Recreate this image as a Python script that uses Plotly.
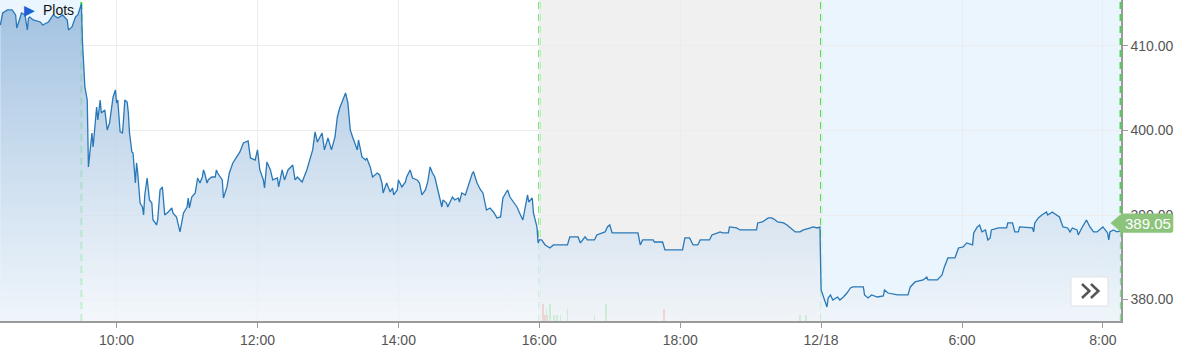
import plotly.graph_objects as go

DAY1 = "2019-12-17"
DAY2 = "2019-12-18"

premarket_times = ["08:21", "08:23", "08:27", "08:31", "08:34", "08:35", "08:38", "08:39", "08:42",
                   "08:44", "08:45", "08:46", "08:49", "08:55", "08:57", "09:02", "09:06", "09:10",
                   "09:14", "09:18", "09:19", "09:22", "09:25", "09:27", "09:30"]
premarket_prices = [412.48, 413.90, 414.26, 414.26, 413.67, 412.13, 413.43, 413.90, 413.67,
                    411.89, 413.31, 413.43, 413.08, 412.84, 412.48, 412.84, 413.67, 413.31,
                    413.67, 413.08, 411.89, 412.25, 413.43, 413.67, 414.97]

regular_times = [
    "09:31", "09:33", "09:35", "09:36", "09:39", "09:40", "09:43", "09:44", "09:46", "09:47",
    "09:50", "09:52", "09:54", "09:57", "09:59", "10:00", "10:01", "10:03", "10:05", "10:06",
    "10:07", "10:09", "10:10", "10:11", "10:13", "10:14", "10:16", "10:17", "10:18", "10:20",
    "10:22", "10:23", "10:24", "10:26", "10:27", "10:28", "10:30", "10:31", "10:33", "10:34",
    "10:35", "10:37", "10:39", "10:40", "10:41", "10:44", "10:47", "10:48", "10:51", "10:54",
    "10:57", "11:00", "11:01", "11:02", "11:04", "11:07", "11:08", "11:09", "11:11", "11:13",
    "11:14", "11:15", "11:17", "11:18", "11:21", "11:24", "11:25", "11:26", "11:30", "11:31",
    "11:34", "11:36", "11:39", "11:42", "11:45", "11:48", "11:51", "11:52", "11:54", "11:58",
    "12:00", "12:02", "12:05", "12:06", "12:08", "12:11", "12:13", "12:17", "12:18", "12:21",
    "12:23", "12:26", "12:30", "12:32", "12:34", "12:38", "12:42", "12:45", "12:47", "12:49",
    "12:51", "12:55", "12:57", "13:00", "13:03", "13:06", "13:08", "13:10", "13:13", "13:15",
    "13:17", "13:19", "13:21", "13:25", "13:26", "13:29", "13:32", "13:33", "13:36", "13:38",
    "13:42", "13:44", "13:46", "13:47", "13:50", "13:53", "13:55", "13:56", "13:59", "14:00",
    "14:03", "14:06", "14:07", "14:10", "14:12", "14:16", "14:18", "14:20", "14:23", "14:25",
    "14:27", "14:29", "14:31", "14:34", "14:37", "14:38", "14:41", "14:42", "14:46", "14:48",
    "14:51", "14:52", "14:54", "14:57", "14:59", "15:03", "15:04", "15:07", "15:10", "15:12",
    "15:15", "15:18", "15:21", "15:24", "15:27", "15:29", "15:33", "15:35", "15:38", "15:41",
    "15:44", "15:46", "15:50", "15:51", "15:54", "15:55", "15:58", "15:59", "16:00"]
regular_prices = [
    410.35, 405.15, 403.61, 395.69, 399.71, 398.05, 402.78, 401.24, 403.61, 402.07,
    402.43, 400.06, 400.89, 403.97, 404.80, 403.26, 403.61, 399.83, 399.71, 401.48,
    403.61, 403.37, 402.07, 399.71, 397.46, 397.34, 393.79, 396.16, 394.97, 391.42,
    390.95, 390.00, 392.37, 394.38, 392.61, 391.78, 391.42, 389.41, 389.06, 388.82,
    389.41, 392.96, 393.32, 391.78, 390.00, 390.36, 390.83, 390.24, 389.77, 388.00,
    390.24, 390.95, 392.01, 390.83, 392.13, 392.61, 393.79, 394.38, 393.79, 394.50,
    395.33, 394.97, 393.79, 394.15, 394.50, 394.50, 395.33, 394.97, 394.15, 392.01,
    393.32, 394.97, 396.16, 396.75, 397.46, 398.52, 398.64, 398.76, 396.75, 396.51,
    397.70, 395.33, 394.15, 393.20, 396.28, 395.33, 394.15, 394.38, 393.32, 395.33,
    394.15, 395.33, 395.92, 394.15, 394.50, 393.91, 395.33, 396.87, 397.70, 399.83,
    398.64, 399.71, 397.70, 399.12, 397.70, 399.23, 401.60, 402.66, 403.61, 404.44,
    403.26, 400.06, 399.23, 397.70, 398.88, 396.87, 396.51, 396.75, 395.69, 394.50,
    394.97, 394.74, 393.79, 392.61, 393.79, 392.73, 393.20, 392.37, 392.96, 394.15,
    393.32, 393.91, 394.50, 395.33, 394.38, 394.15, 393.79, 392.37, 392.96, 393.91,
    395.69, 394.97, 394.50, 392.61, 390.95, 391.78, 391.42, 390.95, 392.13, 391.78,
    392.01, 391.54, 392.61, 392.37, 393.32, 394.97, 395.09, 393.79, 392.96, 392.61,
    390.59, 390.83, 390.36, 389.65, 389.77, 392.01, 392.96, 392.13, 391.54, 390.95,
    390.00, 389.41, 392.37, 391.54, 392.01, 390.24, 388.59, 386.70, 387.05]

afterhours_times = [
    "16:02", "16:05", "16:09", "16:12", "16:24", "16:26", "16:33", "16:35", "16:37", "16:39",
    "16:41", "16:47", "16:49", "16:53", "16:56", "16:58", "17:00", "17:02", "17:24", "17:26",
    "17:28", "17:37", "17:38", "17:45", "17:47", "18:02", "18:04", "18:08", "18:11", "18:15",
    "18:17", "18:25", "18:27", "18:32", "18:34", "18:36", "18:41", "18:42", "18:48", "18:51",
    "19:05", "19:06", "19:10", "19:15", "19:18", "19:21", "19:23", "19:28", "19:31", "19:34",
    "19:38", "19:42", "19:45", "19:51", "19:53", "19:57", "19:59"]
afterhours_prices = [
    387.05, 386.46, 386.10, 386.46, 386.46, 387.41, 387.41, 386.70, 387.05, 387.41,
    387.05, 387.05, 387.64, 387.88, 388.00, 388.59, 388.82, 387.88, 387.88, 386.46,
    387.05, 387.05, 386.81, 386.81, 385.87, 385.87, 387.29, 387.29, 386.46, 386.46,
    387.05, 387.05, 387.64, 387.88, 388.00, 387.88, 387.88, 388.59, 388.47, 388.23,
    388.23, 389.06, 389.18, 389.65, 389.65, 389.41, 389.18, 389.06, 388.82, 388.47,
    388.00, 388.00, 388.23, 388.47, 388.59, 388.47, 388.59]

day2_times = [
    "04:00", "04:02", "04:03", "04:05", "04:06", "04:08", "04:10", "04:14", "04:16", "04:19",
    "04:22", "04:25", "04:27", "04:36", "04:37", "04:40", "04:43", "04:48", "04:53", "04:54",
    "04:57", "05:05", "05:14", "05:16", "05:20", "05:27", "05:30", "05:31", "05:39", "05:43",
    "05:45", "05:48", "05:54", "05:57", "06:01", "06:04", "06:09", "06:10", "06:13", "06:15",
    "06:17", "06:20", "06:22", "06:24", "06:25", "06:31", "06:38", "06:39", "06:43", "06:45",
    "06:48", "06:49", "07:00", "07:01", "07:02", "07:05", "07:08", "07:12", "07:13", "07:17",
    "07:18", "07:21", "07:23", "07:26", "07:30", "07:32", "07:34", "07:38", "07:39", "07:42",
    "07:45", "07:46", "07:49", "07:52", "07:55", "07:59", "08:00", "08:04", "08:05", "08:06",
    "08:09", "08:12", "08:15"]
day2_prices = [
    381.13, 380.30, 379.71, 379.12, 380.18, 380.54, 379.95, 380.30, 379.95, 380.30,
    380.77, 381.37, 381.49, 381.49, 380.54, 380.18, 380.54, 380.30, 380.42, 381.13,
    380.77, 380.54, 380.54, 381.49, 382.08, 382.32, 382.67, 382.32, 382.32, 382.91,
    383.86, 384.92, 384.92, 386.10, 386.22, 386.70, 386.46, 387.88, 388.59, 388.82,
    388.00, 388.23, 387.05, 387.29, 388.23, 388.47, 388.47, 389.06, 389.06, 388.00,
    388.00, 388.59, 388.47, 388.00, 389.06, 389.65, 390.00, 390.36, 390.00, 390.36,
    390.24, 390.00, 389.77, 388.59, 388.47, 388.00, 388.47, 388.23, 387.64, 388.47,
    389.18, 389.41, 388.59, 388.00, 388.00, 388.47, 388.59, 387.88, 387.05, 388.00,
    388.23, 388.00, 388.11]

last_price = 389.05

vol_times = ["16:03", "16:05", "16:06", "16:07", "16:09", "16:12", "16:13", "16:15", "16:18",
             "16:24", "16:47", "16:57", "17:46", "19:42", "19:47"]
vol_values = [3200, 1100, 2200, 1100, 3200, 1100, 1100, 1100, 1100, 2200, 1100, 3200, 2200, 1100, 1100]
vol_direction = ["down", "down", "up", "down", "up", "up", "up", "up", "up",
                 "up", "up", "up", "down", "up", "up"]

x_tick_vals = [f"{DAY1} 10:00", f"{DAY1} 12:00", f"{DAY1} 14:00", f"{DAY1} 16:00",
               f"{DAY1} 18:00", f"{DAY2} 04:00", f"{DAY2} 06:00", f"{DAY2} 08:00"]
x_tick_text = ["10:00", "12:00", "14:00", "16:00", "18:00", "12/18", "6:00", "8:00"]
y_tick_vals = [380, 390, 400, 410]

session_marks = [f"{DAY1} 09:30", f"{DAY1} 16:00", f"{DAY2} 04:00", f"{DAY2} 08:15"]

x_range = [f"{DAY1} 08:20:42", f"{DAY2} 08:15:25"]
y_range = [377.46, 415.44]

# ---------------------------------------------------------------
xs = ([f"{DAY1} {t}" for t in premarket_times + regular_times + afterhours_times]
      + [f"{DAY2} {t}" for t in day2_times])
ys = premarket_prices + regular_prices + afterhours_prices + day2_prices

fig = go.Figure()

fig.add_trace(go.Bar(
    x=[f"{DAY1} {t}" for t in vol_times], y=vol_values, yaxis="y2",
    width=80000,
    marker=dict(color=["rgba(120,220,120,0.28)" if d == "up" else "rgba(240,130,130,0.28)"
                       for d in vol_direction], line=dict(width=0)),
    hoverinfo="skip"))

fig.add_trace(go.Scatter(
    x=xs, y=ys, mode="lines",
    line=dict(color="#2878b8", width=1.3),
    fill="tozeroy",
    fillgradient=dict(type="vertical",
                      colorscale=[[0, "rgba(240,245,250,0.78)"], [1, "rgba(150,185,220,0.88)"]],
                      start=y_range[0], stop=y_range[1]),
    hoverinfo="skip"))

shapes = [
    dict(type="rect", xref="x", yref="paper", x0=x_range[0], x1=session_marks[0], y0=0, y1=1,
         fillcolor="#eaf5fd", line=dict(width=0), layer="below"),
    dict(type="rect", xref="x", yref="paper", x0=session_marks[1], x1=session_marks[2], y0=0, y1=1,
         fillcolor="#f0f0f0", line=dict(width=0), layer="below"),
    dict(type="rect", xref="x", yref="paper", x0=session_marks[2], x1=x_range[1], y0=0, y1=1,
         fillcolor="#eaf5fd", line=dict(width=0), layer="below"),
]
for m in session_marks:
    shapes.append(dict(type="line", xref="x", yref="paper", x0=m, x1=m, y0=0, y1=1,
                       line=dict(color="#33e633", width=2, dash="7px,5px"), layer="below"))

# last price tag
P = last_price
h = 1.14
shapes.append(dict(type="path", xref="paper", yref="y",
                   path=(f"M 0.9906 {P} L 1.0006 {P + h} L 1.0440 {P + h} Q 1.0466 {P + h} 1.0466 {P + h - 0.3} "
                         f"L 1.0466 {P - h + 0.3} Q 1.0466 {P - h} 1.0440 {P - h} L 1.0006 {P - h} Z"),
                   fillcolor="#8cc47c", line=dict(width=0), layer="above"))

# scroll button
shapes.append(dict(type="rect", xref="paper", yref="paper", x0=0.9554, x1=0.9884, y0=0.0467, y1=0.1371,
                   fillcolor="white", line=dict(color="#e2e2e2", width=1), layer="above"))
shapes.append(dict(type="path", xref="paper", yref="paper",
                   path="M 0.9652 0.1153 L 0.9718 0.0935 L 0.9652 0.0717",
                   line=dict(color="#555555", width=2.5), layer="above"))
shapes.append(dict(type="path", xref="paper", yref="paper",
                   path="M 0.9732 0.1153 L 0.9798 0.0935 L 0.9732 0.0717",
                   line=dict(color="#555555", width=2.5), layer="above"))

annotations = [
    dict(xref="paper", yref="paper", x=0.0195, y=0.969, text="▶", showarrow=False,
         xanchor="left", yanchor="middle", font=dict(size=14, color="#1f5fd8")),
    dict(xref="paper", yref="paper", x=0.0366, y=0.969, text="Plots", showarrow=False,
         xanchor="left", yanchor="middle",
         font=dict(size=14, color="#111111", family="Liberation Sans, Arial, sans-serif")),
    dict(xref="paper", yref="y", x=1.0238, y=last_price, text=f"{last_price:.2f}", showarrow=False,
         xanchor="center", yanchor="middle",
         font=dict(size=15, color="white", family="Liberation Sans, Arial, sans-serif")),
]

axis_font = dict(size=14, color="#555555", family="Liberation Sans, Arial, sans-serif")

fig.update_layout(
    width=1190, height=356,
    margin=dict(l=0, r=69, t=0, b=35),
    paper_bgcolor="white", plot_bgcolor="white",
    showlegend=False,
    bargap=0,
    shapes=shapes,
    annotations=annotations,
    xaxis=dict(type="date", range=x_range,
               rangebreaks=[dict(bounds=[20, 4], pattern="hour")],
               tickmode="array", tickvals=x_tick_vals, ticktext=x_tick_text,
               showgrid=True, gridcolor="#ececec", gridwidth=1,
               showline=True, linecolor="#9a9a9a", linewidth=1.5,
               ticks="outside", ticklen=5, tickcolor="#9a9a9a",
               tickfont=axis_font, zeroline=False),
    yaxis=dict(side="right", range=y_range,
               tickmode="array", tickvals=y_tick_vals, tickformat=".2f",
               showgrid=True, gridcolor="#ececec", gridwidth=1,
               showline=True, linecolor="#9a9a9a", linewidth=1.5,
               ticks="outside", ticklen=5, tickcolor="#9a9a9a",
               tickfont=axis_font, zeroline=False),
    yaxis2=dict(overlaying="y", range=[0, 60000], visible=False),
)

fig.write_html("out.html")
